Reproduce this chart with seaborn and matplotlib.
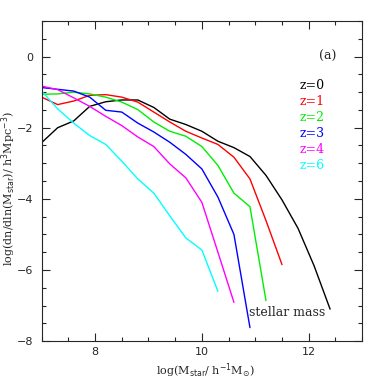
import numpy as np
import pandas as pd
import seaborn as sns
import matplotlib
matplotlib.use("Agg")
import matplotlib.pyplot as plt
from matplotlib.ticker import MultipleLocator

# log stellar mass bins
mass_z0 = [7.0, 7.3, 7.6, 7.9, 8.2, 8.5, 8.8, 9.1, 9.4, 9.7, 10.0, 10.3, 10.6, 10.9, 11.2, 11.5, 11.8, 12.1, 12.4]
phi_z0 = [-2.42, -2.0, -1.81, -1.40, -1.27, -1.22, -1.22, -1.43, -1.76, -1.91, -2.1, -2.38, -2.56, -2.81, -3.34, -4.03, -4.83, -5.88, -7.1]

mass_z1 = [7.0, 7.3, 7.6, 7.9, 8.2, 8.5, 8.8, 9.1, 9.4, 9.7, 10.0, 10.3, 10.6, 10.9, 11.2, 11.5]
phi_z1 = [-1.14, -1.35, -1.25, -1.09, -1.07, -1.14, -1.28, -1.56, -1.84, -2.1, -2.29, -2.47, -2.83, -3.44, -4.61, -5.85]

mass_z2 = [7.0, 7.3, 7.6, 7.9, 8.2, 8.5, 8.8, 9.1, 9.4, 9.7, 10.0, 10.3, 10.6, 10.9, 11.2]
phi_z2 = [-1.06, -1.05, -1.0, -1.05, -1.14, -1.28, -1.49, -1.84, -2.1, -2.24, -2.53, -3.06, -3.84, -4.22, -6.86]

mass_z3 = [7.0, 7.3, 7.6, 7.9, 8.2, 8.5, 8.8, 9.1, 9.4, 9.7, 10.0, 10.3, 10.6, 10.9]
phi_z3 = [-0.87, -0.92, -0.97, -1.14, -1.51, -1.56, -1.87, -2.12, -2.41, -2.75, -3.16, -3.95, -5.0, -7.62]

mass_z4 = [7.0, 7.3, 7.6, 7.9, 8.2, 8.5, 8.8, 9.1, 9.4, 9.7, 10.0, 10.3, 10.6]
phi_z4 = [-0.83, -0.93, -1.16, -1.40, -1.68, -1.94, -2.26, -2.53, -3.02, -3.41, -4.1, -5.5, -6.91]

mass_z6 = [7.0, 7.3, 7.6, 7.9, 8.2, 8.5, 8.8, 9.1, 9.4, 9.7, 10.0, 10.3]
phi_z6 = [-0.97, -1.47, -1.87, -2.22, -2.47, -2.94, -3.44, -3.84, -4.48, -5.1, -5.44, -6.6]

labels = ["z=0", "z=1", "z=2", "z=3", "z=4", "z=6"]
colors = ["black", "#ff0000", "#00ee00", "#0000ff", "#ff00ff", "#00ffff"]

frames = []
for lab, m, p in zip(labels,
                     [mass_z0, mass_z1, mass_z2, mass_z3, mass_z4, mass_z6],
                     [phi_z0, phi_z1, phi_z2, phi_z3, phi_z4, phi_z6]):
    frames.append(pd.DataFrame({"mass": m, "phi": p, "z": lab}))
df = pd.concat(frames, ignore_index=True)

sns.set_style("ticks")
plt.rcParams["font.family"] = ["DejaVu Serif"]

fig = plt.figure(figsize=(3.82, 3.82), dpi=100)
ax = fig.add_axes([0.109, 0.107, 0.839, 0.838])

sns.lineplot(data=df, x="mass", y="phi", hue="z", palette=dict(zip(labels, colors)),
             sort=False, estimator=None, linewidth=1.0, legend=False, ax=ax)

ax.set_xlim(7, 13)
ax.set_ylim(-8, 1)
ax.xaxis.set_major_locator(MultipleLocator(2))
ax.xaxis.set_minor_locator(MultipleLocator(0.5))
ax.yaxis.set_major_locator(MultipleLocator(2))
ax.yaxis.set_minor_locator(MultipleLocator(0.5))
ax.tick_params(which="both", direction="in", top=True, right=True, width=0.8,
               labelsize=8)
ax.tick_params(axis="y", pad=6)
ax.tick_params(axis="x", pad=4)
ax.tick_params(which="major", length=6)
ax.tick_params(which="minor", length=3)
for lab in ax.get_xticklabels() + ax.get_yticklabels():
    lab.set_family("DejaVu Sans")
for s in ax.spines.values():
    s.set_linewidth(0.8)

ax.set_xlabel("")
ax.set_ylabel("")
fig.text(205 / 382, 1 - 371 / 382, r"log(M$_{\rm star}$/ h$^{-1}$M$_{\odot}$)",
         fontsize=8, ha="center", va="center")
fig.text(9 / 382, 1 - 188 / 382, r"log(dn/dln(M$_{\rm star}$)/ h$^{3}$Mpc$^{-3}$)",
         fontsize=8, ha="center", va="center", rotation=90)

ax.text(12.35, 0.0, "(a)", fontsize=9, ha="center", va="center")
for i, (lab, c) in enumerate(zip(labels, colors)):
    ax.text(11.83, -0.8 - 0.45 * i, lab, color=c, fontsize=9, ha="left", va="center")
ax.text(11.6, -7.2, "stellar mass", fontsize=9, ha="center", va="center")

fig.savefig("out.png", dpi=100)
